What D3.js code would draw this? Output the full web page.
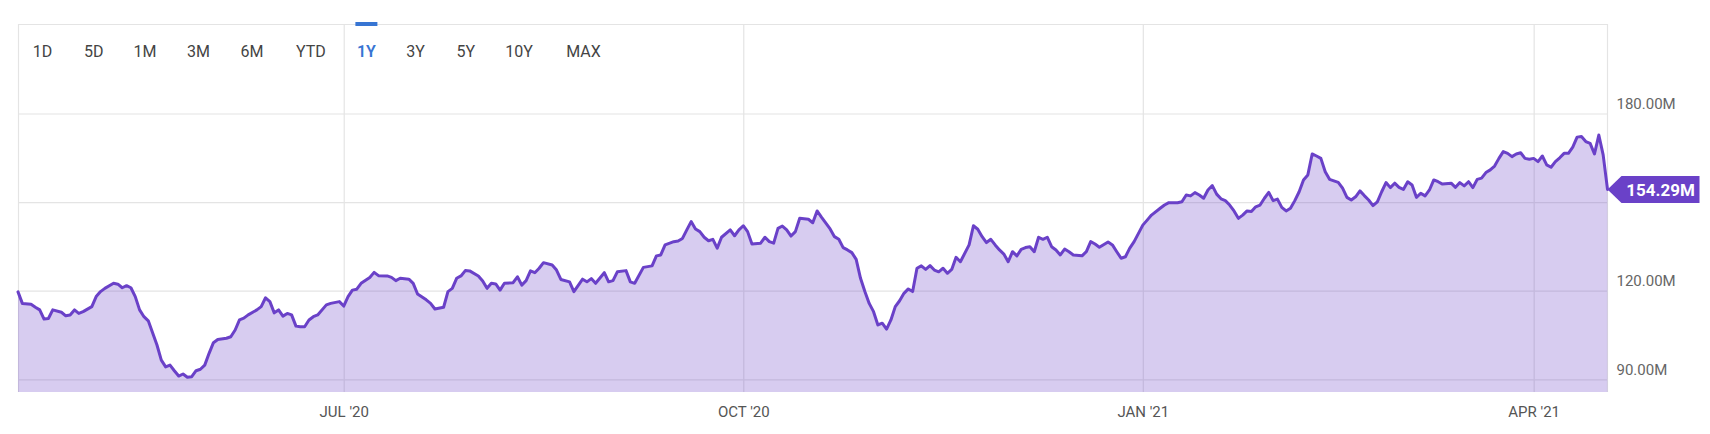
<!DOCTYPE html>
<html>
<head>
<meta charset="utf-8">
<script src="https://cdn.jsdelivr.net/npm/d3@7"></script>
<style>
  html, body { margin: 0; padding: 0; background: #fff; }
  svg { display: block; font-family: Roboto, "Noto Sans", sans-serif; }
</style>
</head>
<body>
<svg id="chart" width="1710" height="434"></svg>
<script>
// ---- data ----
const dates = [
"2020-04-17","2020-04-18","2020-04-20","2020-04-21","2020-04-22","2020-04-23","2020-04-24","2020-04-25","2020-04-27","2020-04-28","2020-04-29","2020-04-30",
"2020-05-01","2020-05-02","2020-05-04","2020-05-05","2020-05-06","2020-05-07","2020-05-09","2020-05-10","2020-05-11","2020-05-12","2020-05-13","2020-05-14","2020-05-15","2020-05-16","2020-05-17","2020-05-19","2020-05-20","2020-05-21","2020-05-22","2020-05-23","2020-05-24","2020-05-25","2020-05-26","2020-05-27","2020-05-28","2020-05-29","2020-05-30","2020-05-31",
"2020-06-01","2020-06-02","2020-06-04","2020-06-05","2020-06-06","2020-06-07","2020-06-08","2020-06-09","2020-06-11","2020-06-12","2020-06-13","2020-06-14","2020-06-15","2020-06-16","2020-06-17","2020-06-18","2020-06-19","2020-06-20","2020-06-21","2020-06-22","2020-06-23","2020-06-24","2020-06-25","2020-06-27","2020-06-28","2020-06-30",
"2020-07-01","2020-07-02","2020-07-03","2020-07-04","2020-07-05","2020-07-07","2020-07-08","2020-07-09","2020-07-11","2020-07-12","2020-07-13","2020-07-14","2020-07-16","2020-07-17","2020-07-18","2020-07-20","2020-07-21","2020-07-22","2020-07-24","2020-07-25","2020-07-26","2020-07-27","2020-07-28","2020-07-29","2020-07-30",
"2020-08-01","2020-08-02","2020-08-03","2020-08-04","2020-08-05","2020-08-06","2020-08-07","2020-08-09","2020-08-10","2020-08-11","2020-08-12","2020-08-13","2020-08-14","2020-08-15","2020-08-16","2020-08-18","2020-08-19","2020-08-20","2020-08-22","2020-08-23","2020-08-25","2020-08-26","2020-08-27","2020-08-28","2020-08-30","2020-08-31",
"2020-09-01","2020-09-02","2020-09-04","2020-09-05","2020-09-06","2020-09-08","2020-09-10","2020-09-11","2020-09-12","2020-09-13","2020-09-15","2020-09-16","2020-09-17","2020-09-18","2020-09-19","2020-09-20","2020-09-21","2020-09-22","2020-09-23","2020-09-24","2020-09-25","2020-09-26","2020-09-28","2020-09-29","2020-09-30",
"2020-10-01","2020-10-02","2020-10-03","2020-10-05","2020-10-06","2020-10-07","2020-10-08","2020-10-09","2020-10-10","2020-10-11","2020-10-12","2020-10-13","2020-10-14","2020-10-16","2020-10-17","2020-10-18","2020-10-19","2020-10-21","2020-10-22","2020-10-23","2020-10-24","2020-10-25","2020-10-26","2020-10-27","2020-10-28","2020-10-29","2020-10-30","2020-10-31",
"2020-11-01","2020-11-02","2020-11-03","2020-11-04","2020-11-05","2020-11-06","2020-11-07","2020-11-08","2020-11-09","2020-11-10","2020-11-11","2020-11-12","2020-11-13","2020-11-14","2020-11-15","2020-11-16","2020-11-17","2020-11-18","2020-11-19","2020-11-20","2020-11-22","2020-11-23","2020-11-24","2020-11-25","2020-11-26","2020-11-27","2020-11-28","2020-11-29","2020-11-30",
"2020-12-01","2020-12-02","2020-12-03","2020-12-04","2020-12-05","2020-12-06","2020-12-07","2020-12-08","2020-12-09","2020-12-10","2020-12-11","2020-12-12","2020-12-13","2020-12-14","2020-12-15","2020-12-16","2020-12-18","2020-12-19","2020-12-20","2020-12-21","2020-12-22","2020-12-24","2020-12-25","2020-12-26","2020-12-27","2020-12-28","2020-12-29","2020-12-30",
"2021-01-01","2021-01-02","2021-01-03","2021-01-05","2021-01-06","2021-01-07","2021-01-09","2021-01-10","2021-01-11","2021-01-12","2021-01-13","2021-01-14","2021-01-15","2021-01-16","2021-01-17","2021-01-18","2021-01-19","2021-01-20","2021-01-21","2021-01-22","2021-01-23","2021-01-24","2021-01-25","2021-01-26","2021-01-27","2021-01-28","2021-01-29","2021-01-30","2021-01-31",
"2021-02-01","2021-02-02","2021-02-03","2021-02-04","2021-02-05","2021-02-06","2021-02-07","2021-02-08","2021-02-09","2021-02-10","2021-02-11","2021-02-12","2021-02-13","2021-02-15","2021-02-16","2021-02-17","2021-02-18","2021-02-19","2021-02-20","2021-02-21","2021-02-22","2021-02-23","2021-02-24","2021-02-25","2021-02-26","2021-02-27","2021-02-28",
"2021-03-01","2021-03-02","2021-03-03","2021-03-04","2021-03-05","2021-03-06","2021-03-07","2021-03-08","2021-03-09","2021-03-10","2021-03-11","2021-03-13","2021-03-14","2021-03-15","2021-03-16","2021-03-17","2021-03-18","2021-03-19","2021-03-20","2021-03-21","2021-03-22","2021-03-23","2021-03-24","2021-03-25","2021-03-26","2021-03-27","2021-03-28","2021-03-29","2021-03-30","2021-03-31",
"2021-04-01","2021-04-02","2021-04-03","2021-04-04","2021-04-05","2021-04-06","2021-04-07","2021-04-08","2021-04-09","2021-04-10","2021-04-11","2021-04-12","2021-04-13","2021-04-14","2021-04-15","2021-04-16","2021-04-17","2021-04-18"
];
const values = [
119.6,115.7,115.4,114.4,113.5,110.4,110.6,113.5,112.7,111.5,111.8,113.5,
112.3,112.9,114.6,118.0,119.7,120.8,122.5,122.2,121.0,121.7,121.0,118.0,113.5,111.2,109.8,101.6,96.5,94.2,94.8,92.9,91.1,91.8,90.7,90.9,92.9,93.4,94.8,98.8,
102.4,103.5,103.9,104.4,106.7,110.1,110.7,111.8,113.5,114.6,117.6,116.3,112.5,113.5,111.4,112.3,111.8,108.0,107.8,107.8,110.1,111.2,111.8,115.2,115.7,116.3,
114.8,118.0,120.2,120.5,122.5,124.5,126.2,125.1,125.0,124.5,123.4,124.2,123.9,122.5,118.9,116.9,115.7,113.8,114.4,119.7,120.8,124.2,125.0,126.8,126.7,
125.0,123.3,120.8,122.5,122.3,120.2,122.5,122.7,124.7,121.9,123.4,126.7,126.1,127.6,129.5,128.7,127.0,123.8,123.0,119.7,123.9,123.0,124.1,122.5,126.1,123.0,
123.4,126.4,126.8,123.0,122.5,127.9,128.4,131.8,132.1,135.5,136.6,136.8,137.7,140.6,143.4,140.9,140.0,138.1,136.9,137.4,134.4,138.1,140.6,138.6,140.6,
142.0,140.0,135.8,136.1,138.1,136.6,136.1,141.1,141.9,140.6,138.5,140.0,144.5,144.2,143.0,147.0,144.9,140.9,138.3,137.4,134.6,133.8,132.9,130.6,124.2,119.7,115.7,112.9,
108.4,109.0,107.0,110.1,114.6,116.6,119.1,120.6,119.7,127.6,128.4,127.2,128.5,127.0,126.4,127.6,125.9,127.2,131.3,129.8,135.5,142.0,140.8,138.3,136.3,137.4,135.5,133.8,132.4,
129.8,133.2,131.8,134.0,134.6,134.9,133.2,138.1,137.4,138.1,134.9,133.8,132.1,134.1,133.2,132.1,131.8,133.2,136.6,135.8,134.7,136.5,135.5,133.2,131.0,131.5,134.4,136.6,
142.2,143.9,145.6,147.9,149.0,149.8,149.8,150.1,152.4,152.1,153.2,152.4,151.3,154.1,155.6,152.7,151.1,150.5,149.0,147.0,144.5,145.6,147.0,146.8,148.4,149.0,151.3,153.3,150.5,
151.0,148.2,147.0,147.9,150.5,153.5,157.5,159.2,166.3,165.6,164.8,160.3,157.7,156.7,154.7,151.6,150.7,151.8,153.8,152.2,150.7,148.8,150.1,153.5,156.6,154.9,156.4,
155.0,154.3,156.9,155.8,151.6,153.0,152.1,154.1,157.5,156.9,156.1,156.4,155.0,156.6,155.5,156.9,154.9,157.7,158.1,160.0,160.9,162.2,164.8,167.1,166.5,165.4,166.3,166.7,164.8,164.5,
164.8,163.7,165.6,162.6,161.8,163.7,165.0,166.5,166.5,168.6,172.0,172.2,170.5,169.9,166.3,172.7,166.0,154.29
];
const yTickValues = [90, 120, 150, 180];
const xTickDates = ["2020-07-01", "2020-10-01", "2021-01-01", "2021-04-01"];
const xTickLabels = ["JUL '20", "OCT '20", "JAN '21", "APR '21"];
const rangeButtons = ["1D","5D","1M","3M","6M","YTD","1Y","3Y","5Y","10Y","MAX"];
const activeRange = "1Y";
const lastValueLabel = "154.29M";

// ---- layout ----
const W = 1710, H = 434;
const plot = { left: 18, right: 1607.5, top: 24, bottom: 392 };
const lineColor = "#6a41c8";
const gridColor = "#e4e4e4";

const parse = d3.timeParse("%Y-%m-%d");
const data = dates.map((d, i) => ({ date: parse(d), value: values[i] }));

const x = d3.scaleTime()
  .domain(d3.extent(data, d => d.date))
  .range([plot.left, plot.right]);
const y = d3.scaleLinear()
  .domain([85.7, 210.3])
  .range([plot.bottom, plot.top]);

const svg = d3.select("#chart");
svg.append("rect").attr("width", W).attr("height", H).attr("fill", "#fff");

// horizontal gridlines
const yGrid = d3.axisLeft(y).tickValues(yTickValues)
  .tickSize(-(plot.right - plot.left)).tickFormat("");
svg.append("g").attr("transform", `translate(${plot.left},0)`).call(yGrid)
  .call(g => g.select(".domain").remove())
  .call(g => g.selectAll("line").attr("stroke", gridColor).attr("stroke-width", 1.2));

// vertical gridlines
const xTicks = xTickDates.map(parse);
const xGrid = d3.axisBottom(x).tickValues(xTicks)
  .tickSize(-(plot.bottom - plot.top)).tickFormat("");
svg.append("g").attr("transform", `translate(0,${plot.bottom})`).call(xGrid)
  .call(g => g.select(".domain").remove())
  .call(g => g.selectAll("line").attr("stroke", gridColor).attr("stroke-width", 1.2));

// frame
svg.append("path")
  .attr("d", `M${plot.left + 0.5},${plot.bottom} V${plot.top + 0.5} H${plot.right} V${plot.bottom}`)
  .attr("fill", "none").attr("stroke", gridColor).attr("stroke-width", 1.2);

// area + line
const area = d3.area().x(d => x(d.date)).y0(plot.bottom).y1(d => y(d.value));
svg.append("path").datum(data).attr("d", area)
  .attr("fill", lineColor).attr("fill-opacity", 0.27);
const line = d3.line().x(d => x(d.date)).y(d => y(d.value));
svg.append("path").datum(data).attr("d", line)
  .attr("fill", "none").attr("stroke", lineColor).attr("stroke-width", 3)
  .attr("stroke-linejoin", "round").attr("stroke-linecap", "round");

// x labels
const xAxis = d3.axisBottom(x).tickValues(xTicks)
  .tickFormat((d, i) => xTickLabels[i]).tickSize(0).tickPadding(0);
svg.append("g").attr("transform", `translate(0,${plot.bottom + 25})`).call(xAxis)
  .call(g => g.select(".domain").remove())
  .call(g => g.selectAll("text").attr("fill", "#555").attr("font-size", 15)
    .attr("font-family", "Roboto").attr("dy", 0));

// y labels (150 is hidden under the last-value badge in the reference)
const yAxis = d3.axisRight(y).tickValues(yTickValues.filter(v => v !== 150))
  .tickFormat(d => d.toFixed(2) + "M").tickSize(0).tickPadding(0);
svg.append("g").attr("transform", `translate(${plot.right + 9},0)`).call(yAxis)
  .call(g => g.select(".domain").remove())
  .call(g => g.selectAll("text").attr("fill", "#666").attr("font-size", 15)
    .attr("font-family", "Roboto").attr("dy", -5));

// range buttons
const btnX = [42.5, 93.8, 145, 198.5, 252, 310.8, 366.4, 415.5, 465.7, 519, 583.5];
svg.append("g").selectAll("text").data(rangeButtons).join("text")
  .attr("x", (d, i) => btnX[i]).attr("y", 57)
  .attr("text-anchor", "middle").attr("font-size", 16)
  .attr("fill", d => d === activeRange ? "#3775d3" : "#444")
  .attr("font-weight", d => d === activeRange ? 600 : 400)
  .text(d => d);
const ai = rangeButtons.indexOf(activeRange);
svg.append("rect").attr("x", btnX[ai] - 11).attr("y", 22).attr("width", 22).attr("height", 4)
  .attr("fill", "#3775d3");

// last value badge
const last = data[data.length - 1];
const by = y(last.value);
const bx = plot.right;
svg.append("path")
  .attr("d", `M${bx},${by} L${bx + 14},${by - 13.5} H${bx + 92} V${by + 13.5} H${bx + 14} Z`)
  .attr("fill", lineColor);
svg.append("text").attr("x", bx + 53).attr("y", by + 6.5).attr("text-anchor", "middle")
  .attr("fill", "#fff").attr("font-weight", 700).attr("font-size", 17)
  .text(lastValueLabel);
</script>
</body>
</html>
